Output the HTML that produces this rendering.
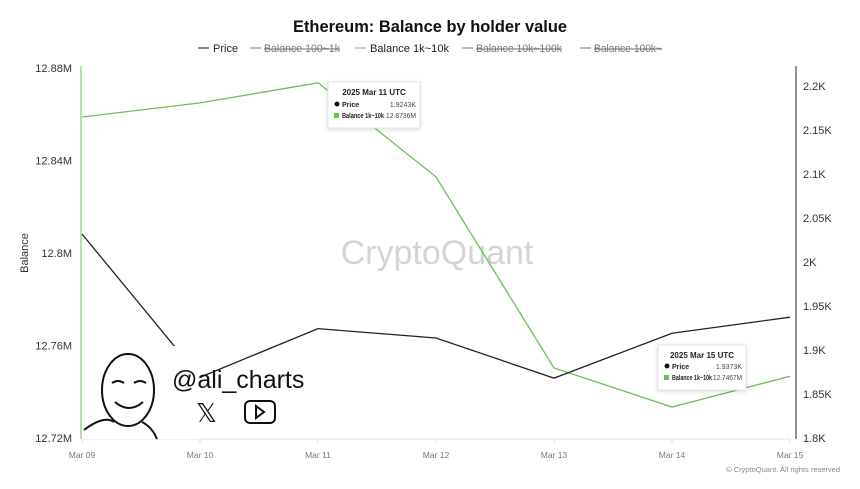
<!DOCTYPE html>
<html><head><meta charset="utf-8"><style>
body{margin:0;background:#fff;font-family:"Liberation Sans",sans-serif}
svg text{font-family:"Liberation Sans",sans-serif}
</style></head><body>
<svg width="860" height="484" viewBox="0 0 860 484" id="c">
<rect width="860" height="484" fill="#fff"/>
<text x="430" y="32" text-anchor="middle" font-size="17" font-weight="bold" fill="#111" textLength="274" lengthAdjust="spacingAndGlyphs">Ethereum: Balance by holder value</text>
<g font-size="11">
<g><line x1="198" y1="48" x2="209" y2="48" stroke="#111"/><text x="213" y="52" fill="#222">Price</text></g>
<g><line x1="250" y1="48" x2="261" y2="48" stroke="#777"/><text x="264" y="52" fill="#777" text-decoration="line-through" textLength="76" lengthAdjust="spacingAndGlyphs">Balance 100~1k</text></g>
<g><line x1="355" y1="48" x2="366" y2="48" stroke="#6cbf5a"/><text x="370" y="52" fill="#222" textLength="79" lengthAdjust="spacingAndGlyphs">Balance 1k~10k</text></g>
<g><line x1="462" y1="48" x2="473" y2="48" stroke="#777"/><text x="476" y="52" fill="#777" text-decoration="line-through" textLength="86" lengthAdjust="spacingAndGlyphs">Balance 10k~100k</text></g>
<g><line x1="580" y1="48" x2="591" y2="48" stroke="#777"/><text x="594" y="52" fill="#777" text-decoration="line-through" textLength="68" lengthAdjust="spacingAndGlyphs">Balance 100k~</text></g>
</g>
<text x="437" y="264" text-anchor="middle" font-size="34" fill="#d4d4d4">CryptoQuant</text>
<line x1="82" y1="439" x2="790" y2="439" stroke="#e3e3e3"/>
<line x1="796" y1="66" x2="796" y2="439" stroke="#222"/>
<g id="axes"></g>
<g id="series"></g>
<line x1="81" y1="66" x2="81" y2="439" stroke="#6cbf5a"/>
<text x="28" y="253" font-size="11" fill="#333" transform="rotate(-90 28 253)" text-anchor="middle">Balance</text>
<g>
<rect x="83" y="346" width="117" height="93" fill="#fff"/>
<ellipse cx="128" cy="390" rx="26" ry="36" fill="#fff" stroke="#111" stroke-width="2"/>
<path d="M112 383 q6-4 12 0 M134 383 q6-4 12 0 M115 402 q14 12 28 0" stroke="#111" stroke-width="2" fill="none"/>
<path d="M84 430 q20-15 30-8 M142 422 q10 5 15 17" stroke="#111" stroke-width="2" fill="none"/>
<text x="172" y="388" font-size="25" fill="#111">@ali_charts</text>
<text x="196" y="422" font-size="26" fill="#111">𝕏</text>
<rect x="245" y="401" width="30" height="22" rx="5" fill="none" stroke="#111" stroke-width="2"/>
<path d="M256 406 l8 6 -8 6z" fill="none" stroke="#111" stroke-width="2"/>
</g>
<g>
<rect x="328" y="82" width="92" height="46" fill="#fff" stroke="#e6e6e6" filter="drop-shadow(0 1px 2px rgba(0,0,0,.15))"/>
<text x="374" y="95" text-anchor="middle" font-size="8" font-weight="bold" fill="#222">2025 Mar 11 UTC</text>
<circle cx="337" cy="104" r="2.5" fill="#111"/><text x="342" y="107" font-size="7" font-weight="bold" fill="#222">Price</text><text x="416" y="107" text-anchor="end" font-size="7" fill="#444">1.9243K</text>
<rect x="334" y="113" width="5" height="5" fill="#6cbf5a"/><text x="342" y="118" font-size="7" font-weight="bold" fill="#222" textLength="42" lengthAdjust="spacingAndGlyphs">Balance 1k~10k</text><text x="416" y="118" text-anchor="end" font-size="7" fill="#444" textLength="30" lengthAdjust="spacingAndGlyphs">12.8736M</text>
</g>
<g>
<rect x="658" y="345" width="88" height="45" fill="#fff" stroke="#e6e6e6" filter="drop-shadow(0 1px 2px rgba(0,0,0,.15))"/>
<text x="702" y="358" text-anchor="middle" font-size="8" font-weight="bold" fill="#222">2025 Mar 15 UTC</text>
<circle cx="667" cy="366" r="2.5" fill="#111"/><text x="672" y="369" font-size="7" font-weight="bold" fill="#222">Price</text><text x="742" y="369" text-anchor="end" font-size="7" fill="#444">1.9373K</text>
<rect x="664" y="375" width="5" height="5" fill="#6cbf5a"/><text x="672" y="380" font-size="7" font-weight="bold" fill="#222" textLength="40" lengthAdjust="spacingAndGlyphs">Balance 1k~10k</text><text x="742" y="380" text-anchor="end" font-size="7" fill="#444" textLength="29" lengthAdjust="spacingAndGlyphs">12.7467M</text>
</g>
<text x="840" y="472" text-anchor="end" font-size="7.5" fill="#888">© CryptoQuant. All rights reserved</text>
</svg>
<script>
const categories=["Mar 09","Mar 10","Mar 11","Mar 12","Mar 13","Mar 14","Mar 15"];
const balance=[12.8588,12.8649,12.8736,12.8329,12.7503,12.7334,12.7467];
const price=[2.0318,1.869,1.9243,1.9136,1.868,1.919,1.9373];
const leftTicks=[12.72,12.76,12.8,12.84,12.88];
const leftLabels=["12.72M","12.76M","12.8M","12.84M","12.88M"];
const rightTicks=[1.8,1.85,1.9,1.95,2,2.05,2.1,2.15,2.2];
const rightLabels=["1.8K","1.85K","1.9K","1.95K","2K","2.05K","2.1K","2.15K","2.2K"];
const NS="http://www.w3.org/2000/svg";
const x=i=>82+i*(790-82)/(categories.length-1);
const yL=v=>438-(v-12.72)/(0.16)*370;
const yR=v=>438-(v-1.8)/(0.4)*352;
function mk(t,a,p){const e=document.createElementNS(NS,t);for(const k in a)e.setAttribute(k,a[k]);p.appendChild(e);return e;}
const ax=document.getElementById('axes');
leftTicks.forEach((v,i)=>{const t=mk('text',{x:72,y:yL(v)+4,'text-anchor':'end','font-size':11,fill:'#333'},ax);t.textContent=leftLabels[i];

});
rightTicks.forEach((v,i)=>{const t=mk('text',{x:803,y:yR(v)+4,'font-size':11,fill:'#333'},ax);t.textContent=rightLabels[i];

});
categories.forEach((c,i)=>{mk('line',{x1:x(i),y1:439,x2:x(i),y2:443,stroke:'#ddd'},ax);const t=mk('text',{x:x(i),y:458,'text-anchor':'middle','font-size':8.5,fill:'#777'},ax);t.textContent=c;

});
const s=document.getElementById('series');
const pb=mk('polyline',{points:balance.map((v,i)=>x(i)+','+yL(v)).join(' '),fill:'none',stroke:'#6cbf5a','stroke-width':1.3},s);


const pp=mk('polyline',{points:price.map((v,i)=>x(i)+','+yR(v)).join(' '),fill:'none',stroke:'#222','stroke-width':1.3},s);


</script>
</body></html>
